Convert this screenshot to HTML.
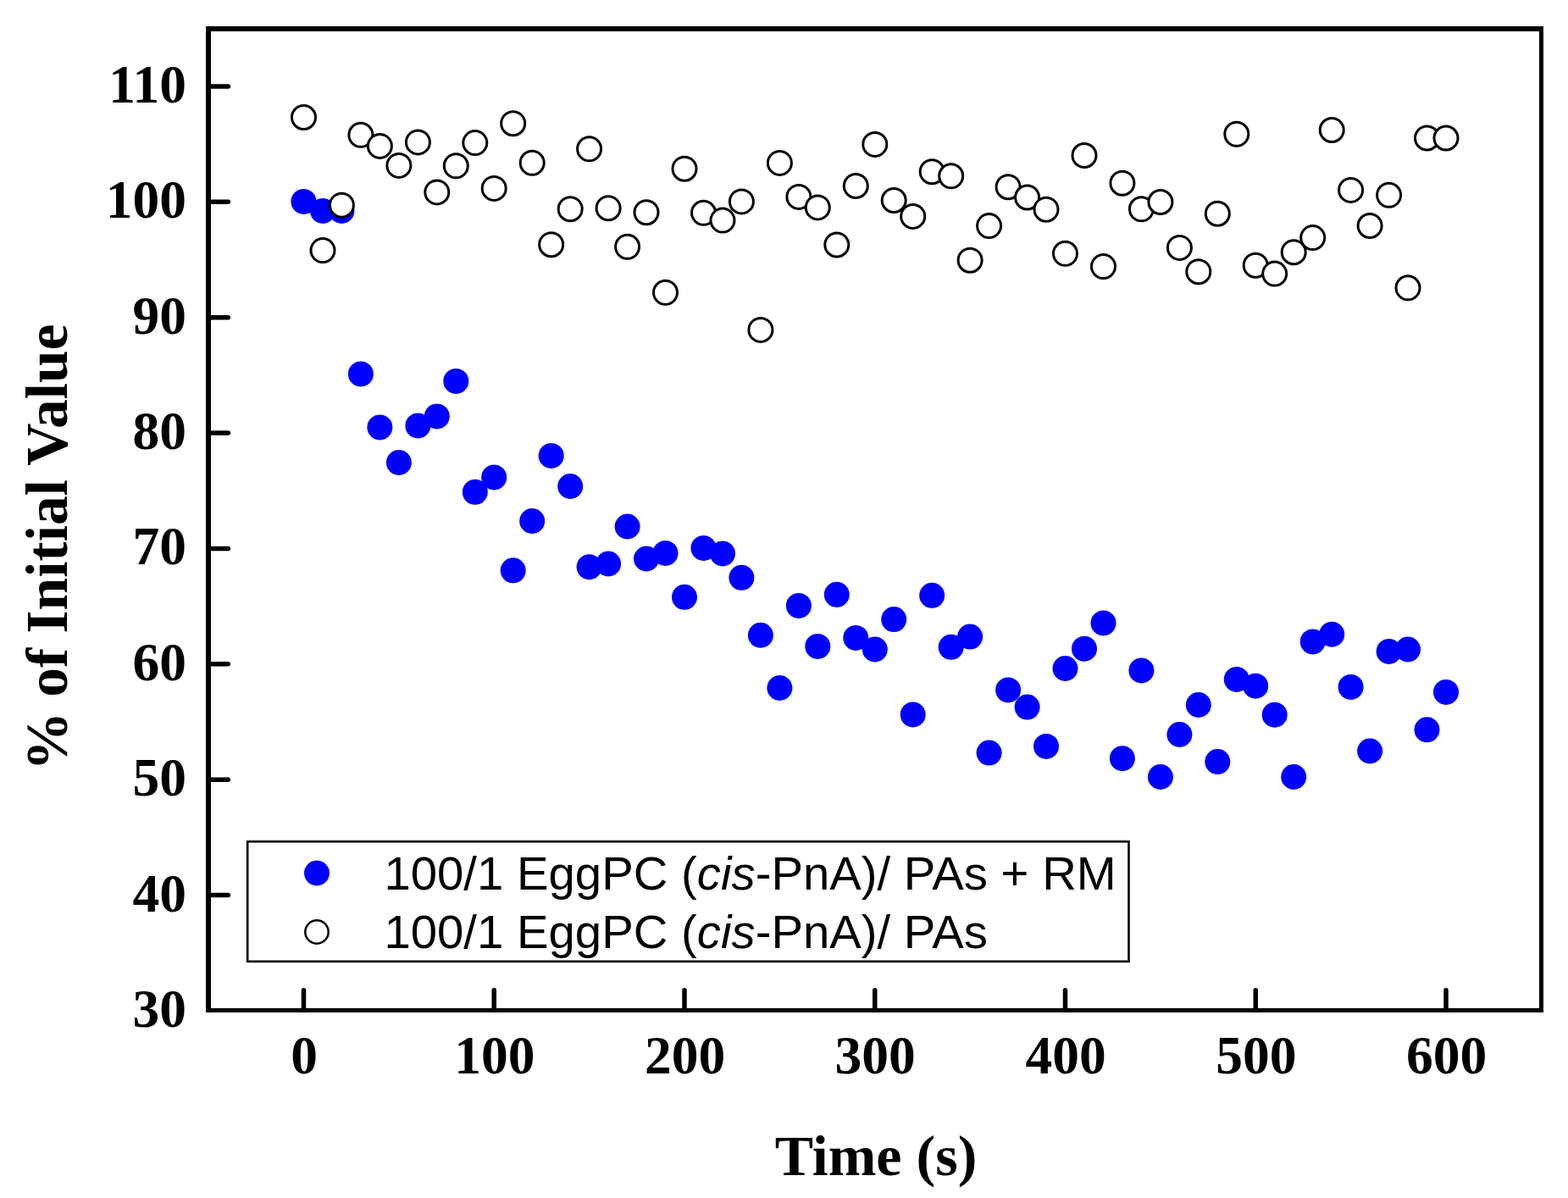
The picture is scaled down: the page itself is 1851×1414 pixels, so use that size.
<!DOCTYPE html>
<html><head><meta charset="utf-8"><title>% of Initial Value vs Time</title>
<style>
html,body{margin:0;padding:0;background:#fff;}
body{width:1851px;height:1414px;overflow:hidden;}
svg{display:block;}
.ser{font-family:"Liberation Serif","Times New Roman",serif;font-weight:bold;}
.san{font-family:"Liberation Sans",Arial,sans-serif;}
</style></head><body>
<svg width="1851" height="1414" viewBox="0 0 1851 1414">
<rect x="0" y="0" width="1851" height="1414" fill="#fff"/>

<g fill="#000">
<rect x="243" y="31" width="6" height="1164"/>
<rect x="243" y="31" width="1579" height="6"/>
<rect x="1817" y="31" width="5" height="1164"/>
<rect x="243" y="1190" width="1579" height="5"/>
<line x1="246" y1="102.00" x2="269.3" y2="102.00" stroke="#000" stroke-width="5.5" stroke-linecap="round"/>
<line x1="246" y1="238.36" x2="269.3" y2="238.36" stroke="#000" stroke-width="5.5" stroke-linecap="round"/>
<line x1="246" y1="374.71" x2="269.3" y2="374.71" stroke="#000" stroke-width="5.5" stroke-linecap="round"/>
<line x1="246" y1="511.07" x2="269.3" y2="511.07" stroke="#000" stroke-width="5.5" stroke-linecap="round"/>
<line x1="246" y1="647.43" x2="269.3" y2="647.43" stroke="#000" stroke-width="5.5" stroke-linecap="round"/>
<line x1="246" y1="783.79" x2="269.3" y2="783.79" stroke="#000" stroke-width="5.5" stroke-linecap="round"/>
<line x1="246" y1="920.14" x2="269.3" y2="920.14" stroke="#000" stroke-width="5.5" stroke-linecap="round"/>
<line x1="246" y1="1056.50" x2="269.3" y2="1056.50" stroke="#000" stroke-width="5.5" stroke-linecap="round"/>
<line x1="358.50" y1="1192" x2="358.50" y2="1168.75" stroke="#000" stroke-width="5.5" stroke-linecap="round"/>
<line x1="583.25" y1="1192" x2="583.25" y2="1168.75" stroke="#000" stroke-width="5.5" stroke-linecap="round"/>
<line x1="808.00" y1="1192" x2="808.00" y2="1168.75" stroke="#000" stroke-width="5.5" stroke-linecap="round"/>
<line x1="1032.75" y1="1192" x2="1032.75" y2="1168.75" stroke="#000" stroke-width="5.5" stroke-linecap="round"/>
<line x1="1257.50" y1="1192" x2="1257.50" y2="1168.75" stroke="#000" stroke-width="5.5" stroke-linecap="round"/>
<line x1="1482.25" y1="1192" x2="1482.25" y2="1168.75" stroke="#000" stroke-width="5.5" stroke-linecap="round"/>
<line x1="1707.00" y1="1192" x2="1707.00" y2="1168.75" stroke="#000" stroke-width="5.5" stroke-linecap="round"/>
</g>
<g class="ser" font-size="63.5" fill="#000" text-anchor="end">
<text x="220" y="121.0">110</text>
<text x="220" y="257.4">100</text>
<text x="220" y="393.7">90</text>
<text x="220" y="530.1">80</text>
<text x="220" y="666.4">70</text>
<text x="220" y="802.8">60</text>
<text x="220" y="939.1">50</text>
<text x="220" y="1075.5">40</text>
<text x="220" y="1211.9">30</text>
</g>
<g class="ser" font-size="63.5" fill="#000" text-anchor="middle">
<text x="359.0" y="1266.5">0</text>
<text x="583.8" y="1266.5">100</text>
<text x="808.5" y="1266.5">200</text>
<text x="1033.2" y="1266.5">300</text>
<text x="1258.0" y="1266.5">400</text>
<text x="1482.8" y="1266.5">500</text>
<text x="1707.5" y="1266.5">600</text>
</g>
<text class="ser" font-size="68" x="1034" y="1387" text-anchor="middle">Time (s)</text>
<text class="ser" font-size="69.5" transform="translate(79,646) rotate(-90)" text-anchor="middle">% of Initial Value</text>
<g fill="#0000ff">
<circle cx="358.5" cy="237.9" r="15.0"/>
<circle cx="381.0" cy="249.0" r="15.0"/>
<circle cx="403.4" cy="249.0" r="15.0"/>
<circle cx="425.9" cy="441.4" r="15.0"/>
<circle cx="448.4" cy="504.4" r="15.0"/>
<circle cx="470.9" cy="546.0" r="15.0"/>
<circle cx="493.4" cy="502.4" r="15.0"/>
<circle cx="515.8" cy="491.4" r="15.0"/>
<circle cx="538.3" cy="449.9" r="15.0"/>
<circle cx="560.8" cy="580.8" r="15.0"/>
<circle cx="583.2" cy="563.4" r="15.0"/>
<circle cx="605.7" cy="673.3" r="15.0"/>
<circle cx="628.2" cy="615.0" r="15.0"/>
<circle cx="650.7" cy="537.9" r="15.0"/>
<circle cx="673.2" cy="574.0" r="15.0"/>
<circle cx="695.6" cy="669.2" r="15.0"/>
<circle cx="718.1" cy="665.5" r="15.0"/>
<circle cx="740.6" cy="621.5" r="15.0"/>
<circle cx="763.0" cy="659.5" r="15.0"/>
<circle cx="785.5" cy="652.9" r="15.0"/>
<circle cx="808.0" cy="704.8" r="15.0"/>
<circle cx="830.5" cy="646.9" r="15.0"/>
<circle cx="853.0" cy="653.4" r="15.0"/>
<circle cx="875.4" cy="681.8" r="15.0"/>
<circle cx="897.9" cy="749.8" r="15.0"/>
<circle cx="920.4" cy="812.0" r="15.0"/>
<circle cx="942.9" cy="714.9" r="15.0"/>
<circle cx="965.3" cy="762.9" r="15.0"/>
<circle cx="987.8" cy="701.8" r="15.0"/>
<circle cx="1010.3" cy="752.9" r="15.0"/>
<circle cx="1032.8" cy="766.4" r="15.0"/>
<circle cx="1055.2" cy="731.1" r="15.0"/>
<circle cx="1077.7" cy="843.4" r="15.0"/>
<circle cx="1100.2" cy="702.8" r="15.0"/>
<circle cx="1122.7" cy="763.8" r="15.0"/>
<circle cx="1145.1" cy="751.6" r="15.0"/>
<circle cx="1167.6" cy="888.6" r="15.0"/>
<circle cx="1190.1" cy="814.4" r="15.0"/>
<circle cx="1212.6" cy="834.6" r="15.0"/>
<circle cx="1235.0" cy="880.9" r="15.0"/>
<circle cx="1257.5" cy="789.0" r="15.0"/>
<circle cx="1280.0" cy="765.7" r="15.0"/>
<circle cx="1302.5" cy="735.4" r="15.0"/>
<circle cx="1324.9" cy="895.2" r="15.0"/>
<circle cx="1347.4" cy="791.4" r="15.0"/>
<circle cx="1369.9" cy="917.0" r="15.0"/>
<circle cx="1392.4" cy="867.0" r="15.0"/>
<circle cx="1414.8" cy="832.0" r="15.0"/>
<circle cx="1437.3" cy="899.1" r="15.0"/>
<circle cx="1459.8" cy="801.9" r="15.0"/>
<circle cx="1482.2" cy="809.7" r="15.0"/>
<circle cx="1504.7" cy="843.7" r="15.0"/>
<circle cx="1527.2" cy="917.0" r="15.0"/>
<circle cx="1549.7" cy="757.4" r="15.0"/>
<circle cx="1572.2" cy="748.7" r="15.0"/>
<circle cx="1594.6" cy="810.9" r="15.0"/>
<circle cx="1617.1" cy="886.5" r="15.0"/>
<circle cx="1639.6" cy="768.9" r="15.0"/>
<circle cx="1662.0" cy="766.5" r="15.0"/>
<circle cx="1684.5" cy="861.3" r="15.0"/>
<circle cx="1707.0" cy="816.9" r="15.0"/>
</g>
<g fill="#fff" stroke="#000" stroke-width="3.0">
<circle cx="358.5" cy="138.5" r="14.0"/>
<circle cx="381.0" cy="295.6" r="14.0"/>
<circle cx="403.4" cy="242.2" r="14.0"/>
<circle cx="425.9" cy="159.3" r="14.0"/>
<circle cx="448.4" cy="172.4" r="14.0"/>
<circle cx="470.9" cy="195.4" r="14.0"/>
<circle cx="493.4" cy="167.9" r="14.0"/>
<circle cx="515.8" cy="226.9" r="14.0"/>
<circle cx="538.3" cy="195.8" r="14.0"/>
<circle cx="560.8" cy="168.6" r="14.0"/>
<circle cx="583.2" cy="222.4" r="14.0"/>
<circle cx="605.7" cy="145.7" r="14.0"/>
<circle cx="628.2" cy="192.3" r="14.0"/>
<circle cx="650.7" cy="288.7" r="14.0"/>
<circle cx="673.2" cy="246.7" r="14.0"/>
<circle cx="695.6" cy="175.8" r="14.0"/>
<circle cx="718.1" cy="245.7" r="14.0"/>
<circle cx="740.6" cy="291.3" r="14.0"/>
<circle cx="763.0" cy="250.7" r="14.0"/>
<circle cx="785.5" cy="345.3" r="14.0"/>
<circle cx="808.0" cy="199.2" r="14.0"/>
<circle cx="830.5" cy="251.3" r="14.0"/>
<circle cx="853.0" cy="260.1" r="14.0"/>
<circle cx="875.4" cy="237.9" r="14.0"/>
<circle cx="897.9" cy="389.4" r="14.0"/>
<circle cx="920.4" cy="192.4" r="14.0"/>
<circle cx="942.9" cy="232.4" r="14.0"/>
<circle cx="965.3" cy="244.9" r="14.0"/>
<circle cx="987.8" cy="289.0" r="14.0"/>
<circle cx="1010.3" cy="219.5" r="14.0"/>
<circle cx="1032.8" cy="170.4" r="14.0"/>
<circle cx="1055.2" cy="236.5" r="14.0"/>
<circle cx="1077.7" cy="255.4" r="14.0"/>
<circle cx="1100.2" cy="202.7" r="14.0"/>
<circle cx="1122.7" cy="207.8" r="14.0"/>
<circle cx="1145.1" cy="307.2" r="14.0"/>
<circle cx="1167.6" cy="266.6" r="14.0"/>
<circle cx="1190.1" cy="220.7" r="14.0"/>
<circle cx="1212.6" cy="233.0" r="14.0"/>
<circle cx="1235.0" cy="247.2" r="14.0"/>
<circle cx="1257.5" cy="299.3" r="14.0"/>
<circle cx="1280.0" cy="183.5" r="14.0"/>
<circle cx="1302.5" cy="314.6" r="14.0"/>
<circle cx="1324.9" cy="216.2" r="14.0"/>
<circle cx="1347.4" cy="246.8" r="14.0"/>
<circle cx="1369.9" cy="238.5" r="14.0"/>
<circle cx="1392.4" cy="292.4" r="14.0"/>
<circle cx="1414.8" cy="320.7" r="14.0"/>
<circle cx="1437.3" cy="252.2" r="14.0"/>
<circle cx="1459.8" cy="158.3" r="14.0"/>
<circle cx="1482.2" cy="313.2" r="14.0"/>
<circle cx="1504.7" cy="323.1" r="14.0"/>
<circle cx="1527.2" cy="297.7" r="14.0"/>
<circle cx="1549.7" cy="280.6" r="14.0"/>
<circle cx="1572.2" cy="153.5" r="14.0"/>
<circle cx="1594.6" cy="224.4" r="14.0"/>
<circle cx="1617.1" cy="266.5" r="14.0"/>
<circle cx="1639.6" cy="230.3" r="14.0"/>
<circle cx="1662.0" cy="339.8" r="14.0"/>
<circle cx="1684.5" cy="163.0" r="14.0"/>
<circle cx="1707.0" cy="163.0" r="14.0"/>
</g>
<rect x="292.2" y="993.3" width="1040.3" height="141.5" fill="#fff" stroke="#000" stroke-width="2.6"/>
<circle cx="374" cy="1030.5" r="15" fill="#0000ff"/>
<circle cx="374" cy="1100" r="13.7" fill="#fff" stroke="#000" stroke-width="2.5"/>
<text class="san" font-size="55" transform="translate(453.4,1050) scale(1.024,1)">100/1 EggPC (<tspan font-style="italic">cis</tspan>-PnA)/ PAs + RM</text>
<text class="san" font-size="55" transform="translate(453.4,1119) scale(1.024,1)">100/1 EggPC (<tspan font-style="italic">cis</tspan>-PnA)/ PAs</text>
</svg>
</body></html>
